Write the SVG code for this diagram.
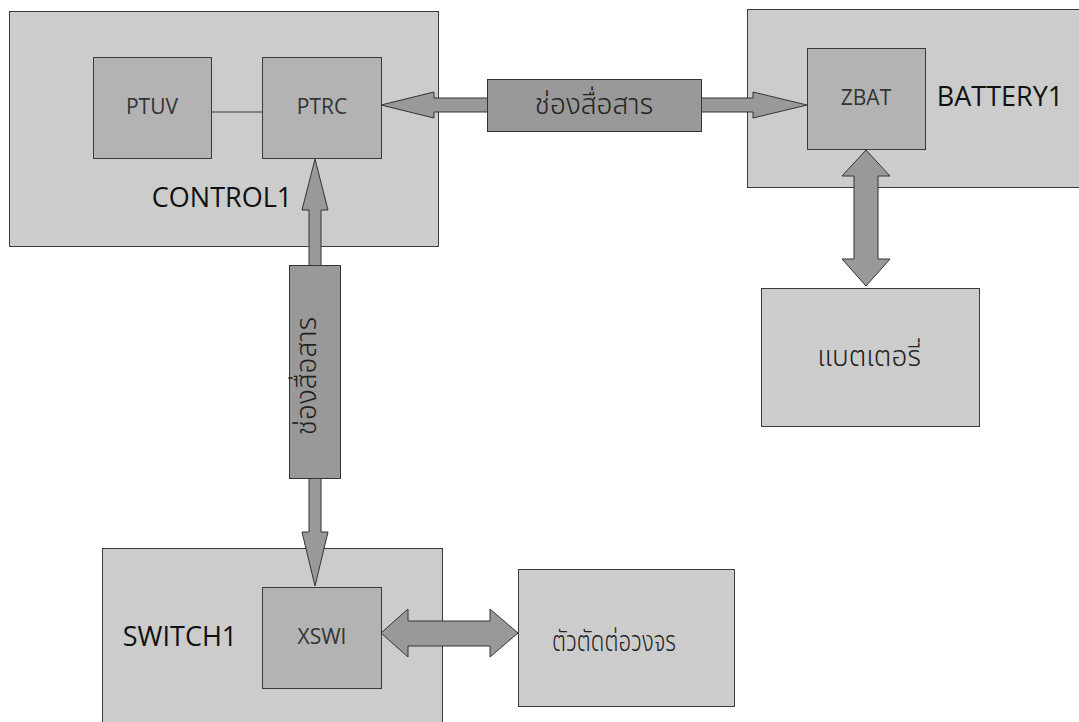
<svg xmlns="http://www.w3.org/2000/svg" width="1079" height="722" viewBox="0 0 1079 722">
<style>
.outer{fill:#cccccc;stroke:#3a3a3a;stroke-width:1}
.inner{fill:#b3b3b3;stroke:#3a3a3a;stroke-width:1}
.conn{fill:#999999;stroke:#333333;stroke-width:1;stroke-linejoin:miter}
.big{font-family:"Open Sans","Noto Sans",sans-serif;font-size:27px;fill:#111111;text-anchor:middle}
.small{font-family:"Open Sans","Noto Sans",sans-serif;font-size:21px;fill:#333333;text-anchor:middle}
.thai{font-family:"Noto Sans Thai","Noto Sans","Open Sans",sans-serif;font-size:28px;font-weight:300;fill:#222222;text-anchor:middle}
</style>
<rect width="1079" height="722" fill="#ffffff"/>
<g id="control1">
<rect class="outer" x="9.5" y="11.5" width="429" height="235"/>
<text class="big" x="222" y="207">CONTROL1</text>
</g>
<g id="ptuv">
<rect class="inner" x="93.5" y="57.5" width="118" height="101"/>
<text class="small" x="152" y="114">PTUV</text>
</g>
<g id="ptrc">
<rect class="inner" x="262.5" y="57.5" width="119" height="101"/>
<text class="small" x="322" y="114">PTRC</text>
</g>
<g id="battery1">
<rect class="outer" x="747.5" y="9.5" width="340" height="178"/>
<text class="big" x="1000" y="106">BATTERY1</text>
</g>
<g id="zbat">
<rect class="inner" x="807.5" y="48.5" width="118" height="101"/>
<text class="small" x="866" y="105">ZBAT</text>
</g>
<g id="battery">
<rect class="outer" x="761.5" y="288.5" width="218" height="138"/>
<text class="thai" x="869" y="366">แบตเตอรี่</text>
</g>
<g id="switch1">
<rect class="outer" x="102.5" y="548.5" width="340" height="180"/>
<text class="big" x="180" y="646">SWITCH1</text>
</g>
<g id="xswi">
<rect class="inner" x="262.5" y="587.5" width="119" height="101"/>
<text class="small" x="322" y="644">XSWI</text>
</g>
<g id="breaker">
<rect class="outer" x="518.5" y="569.5" width="216" height="137"/>
<text class="thai" x="614" y="651" textLength="124" lengthAdjust="spacingAndGlyphs">ตัวตัดต่อวงจร</text>
</g>
<g id="connectors">
<line x1="211.5" y1="112" x2="262.5" y2="112" stroke="#3a3a3a" stroke-width="1"/>
<g id="comm-top">
<polygon class="conn" points="381,105 434,92 434,98 753,98 753,92 807,105 753,118 753,112 434,112 434,118"/>
<rect class="conn" x="487.5" y="79.5" width="214" height="52"/>
<text class="thai" x="594" y="114">ช่องสื่อสาร</text>
</g>
<g id="comm-vertical">
<polygon class="conn" points="315,159 328,210 321,210 321,532 328,532 315,586 302,532 309,532 309,210 302,210"/>
<rect class="conn" x="289.5" y="265.5" width="51" height="213"/>
<text class="thai" transform="translate(316 376) rotate(-90)" x="0" y="0">ช่องสื่อสาร</text>
</g>
<polygon id="battery-link" class="conn" points="866,150 890,176 878,176 878,259 890,259 866,286 842,259 854,259 854,176 842,176"/>
<polygon id="breaker-link" class="conn" points="381,633 408,609 408,621 490,621 490,609 518,633 490,657 490,646 408,646 408,657"/>
</g>
</svg>
